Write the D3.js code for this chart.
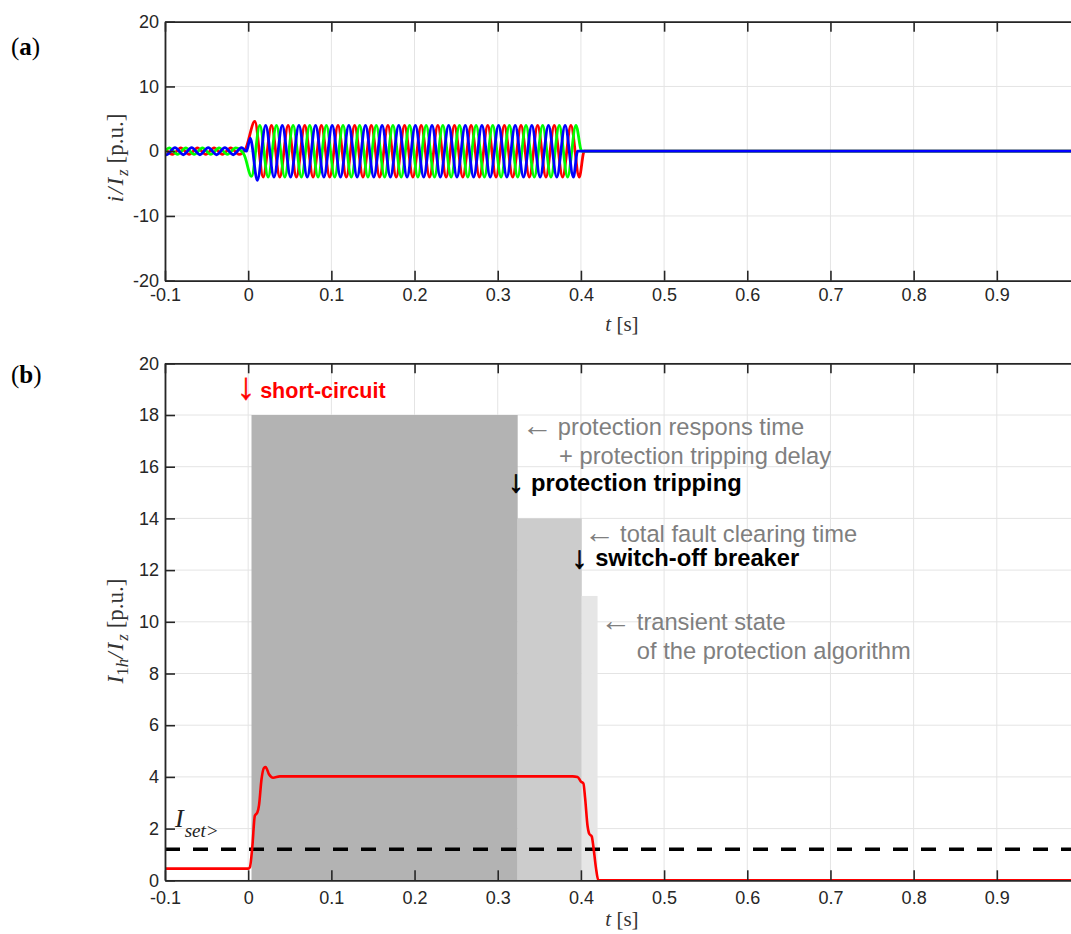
<!DOCTYPE html>
<html>
<head>
<meta charset="utf-8">
<script src="https://cdn.jsdelivr.net/npm/d3@7"></script>
<style>
  body { margin: 0; background: #fff; }
  svg { display: block; }
  .tick text { font-family: "Liberation Sans", Arial, sans-serif; font-size: 18px; fill: #262626; }
  .domain { stroke: #262626; stroke-width: 1.8; }
  .tick line { stroke: #262626; stroke-width: 1.6; }
  .serif { font-family: "Liberation Serif", "Times New Roman", serif; fill: #333; }
  .note { font-family: "Liberation Sans", Arial, sans-serif; }
  .arrow { font-family: "Liberation Serif", "DejaVu Serif", serif; }
</style>
</head>
<body>
<div id="chart"></div>
<script>
/* Tick values */
const timeTicks = [-0.1, 0, 0.1, 0.2, 0.3, 0.4, 0.5, 0.6, 0.7, 0.8, 0.9];
const currentTicks = [-20, -10, 0, 10, 20];
const harmonicTicks = [0, 2, 4, 6, 8, 10, 12, 14, 16, 18, 20];

/* Panel (a): phase currents, [t, i/Iz] at the peaks */
const phaseRed = [
  [-0.1, 0.45], [-0.091, -0.5], [-0.081, 0.5], [-0.071, -0.5], [-0.061, 0.5], [-0.051, -0.5],
  [-0.041, 0.5], [-0.031, -0.5], [-0.021, 0.5], [-0.011, -0.5], [-0.003, 0.4],
  [0.008, 4.6], [0.018, -4], [0.028, 4], [0.038, -4], [0.048, 4], [0.058, -4], [0.068, 4], [0.078, -4], [0.088, 4], [0.098, -4],
  [0.108, 4], [0.118, -4], [0.128, 4], [0.138, -4], [0.148, 4], [0.158, -4], [0.168, 4], [0.178, -4], [0.188, 4], [0.198, -4],
  [0.208, 4], [0.218, -4], [0.228, 4], [0.238, -4], [0.248, 4], [0.258, -4], [0.268, 4], [0.278, -4], [0.288, 4], [0.298, -4],
  [0.308, 4], [0.318, -4], [0.328, 4], [0.338, -4], [0.348, 4], [0.358, -4], [0.368, 4], [0.378, -4], [0.388, 4], [0.398, -4],
  [0.404, 0], [1.0, 0],
];
const phaseGreen = [
  [-0.1, 0], [-0.095, 0.5], [-0.085, -0.5], [-0.075, 0.5], [-0.065, -0.5], [-0.055, 0.5],
  [-0.045, -0.5], [-0.035, 0.5], [-0.025, -0.5], [-0.015, 0.5], [-0.005, -0.5],
  [0.004, -3.9], [0.014, 4], [0.024, -4], [0.034, 4], [0.044, -4], [0.054, 4], [0.064, -4], [0.074, 4], [0.084, -4], [0.094, 4],
  [0.104, -4], [0.114, 4], [0.124, -4], [0.134, 4], [0.144, -4], [0.154, 4], [0.164, -4], [0.174, 4], [0.184, -4], [0.194, 4],
  [0.204, -4], [0.214, 4], [0.224, -4], [0.234, 4], [0.244, -4], [0.254, 4], [0.264, -4], [0.274, 4], [0.284, -4], [0.294, 4],
  [0.304, -4], [0.314, 4], [0.324, -4], [0.334, 4], [0.344, -4], [0.354, 4], [0.364, -4], [0.374, 4], [0.384, -4], [0.394, 4],
  [0.401, 0], [1.0, 0],
];
const phaseBlue = [
  [-0.1, -0.45], [-0.098, -0.55], [-0.088, 0.55], [-0.078, -0.55], [-0.068, 0.55], [-0.058, -0.55],
  [-0.048, 0.55], [-0.038, -0.55], [-0.028, 0.55], [-0.018, -0.55], [-0.008, 0.55], [-0.002, 0],
  [0.0025, 2.0], [0.011, -4.5], [0.021, 4], [0.031, -4], [0.041, 4], [0.051, -4], [0.061, 4], [0.071, -4], [0.081, 4], [0.091, -4],
  [0.101, 4], [0.111, -4], [0.121, 4], [0.131, -4], [0.141, 4], [0.151, -4], [0.161, 4], [0.171, -4], [0.181, 4], [0.191, -4],
  [0.201, 4], [0.211, -4], [0.221, 4], [0.231, -4], [0.241, 4], [0.251, -4], [0.261, 4], [0.271, -4], [0.281, 4], [0.291, -4],
  [0.301, 4], [0.311, -4], [0.321, 4], [0.331, -4], [0.341, 4], [0.351, -4], [0.361, 4], [0.371, -4], [0.381, 4], [0.391, -4],
  [0.396, 0], [1.0, 0],
];

/* Panel (b): first harmonic magnitude I1h/Iz */
const harmonicCurrent = [
  [-0.1, 0.45], [0.0, 0.45], [0.002, 0.5], [0.005, 1.3], [0.008, 2.5], [0.011, 2.62], [0.013, 2.9],
  [0.016, 3.9], [0.019, 4.35], [0.021, 4.38], [0.025, 4.1], [0.03, 3.97], [0.038, 4.02], [0.39, 4.02],
  [0.396, 4.0], [0.4, 3.82], [0.403, 3.75], [0.405, 3.2], [0.408, 2.1], [0.41, 1.8], [0.413, 1.7],
  [0.415, 1.3], [0.418, 0.5], [0.421, 0], [1.0, 0],
];
const setting = 1.2;

/* Protection stages: start, end and bar height */
const stageStart = [0.004, 0.324, 0.401];
const stageEnd = [0.324, 0.401, 0.42];
const stageLevel = [18, 14, 11];
const stageColors = ['#b3b3b3', '#cccccc', '#e6e6e6'];

/* Text notes in panel (b), placed in data units (arrow centre at `at`) */
const notes = [
  { arrow: '↓', at: -0.003, t: 0.0144, v: 18.65, text: 'short-circuit', kind: 'red' },
  { arrow: '←', at: 0.3477, t: 0.3723, v: 17.24, text: 'protection respons time', kind: 'gray' },
  { arrow: null, t: 0.3738, v: 16.09, text: '+ protection tripping delay', kind: 'gray' },
  { arrow: '↓', at: 0.3219, t: 0.3401, v: 15.06, text: 'protection tripping', kind: 'black' },
  { arrow: '←', at: 0.4228, t: 0.4471, v: 13.09, text: 'total fault clearing time', kind: 'gray' },
  { arrow: '↓', at: 0.3982, t: 0.4171, v: 12.15, text: 'switch-off breaker', kind: 'black' },
  { arrow: '←', at: 0.4421, t: 0.4672, v: 9.7, text: 'transient state', kind: 'gray' },
  { arrow: null, t: 0.4672, v: 8.58, text: 'of the protection algorithm', kind: 'gray' },
];

const width = 1071, height = 934;
const svg = d3.select('#chart').append('svg').attr('width', width).attr('height', height);

const x = d3.scaleLinear().domain([-0.1, 1.0]).range([165, 1080]);
const yA = d3.scaleLinear().domain([-20, 20]).range([280.7, 21.7]);
const yB = d3.scaleLinear().domain([0, 20]).range([880.3, 363.3]);

const fmt = (d) => String(d);

// Grid lines behind everything
const drawGrid = (y, yTicks) => {
  const g = svg.append('g').attr('stroke', '#e4e4e4').attr('stroke-width', 1);
  g.selectAll('.gx').data(timeTicks.concat([1.0])).join('line')
    .attr('x1', (d) => x(d)).attr('x2', (d) => x(d))
    .attr('y1', y.range()[0]).attr('y2', y.range()[1]);
  g.selectAll('.gy').data(yTicks).join('line')
    .attr('x1', x.range()[0]).attr('x2', x.range()[1])
    .attr('y1', (d) => y(d)).attr('y2', (d) => y(d));
};

// Box axes with inward ticks
const drawAxes = (y, yTicks, pad) => {
  const [y0, y1] = y.range();
  svg.append('g').attr('transform', `translate(0,${y0})`)
    .call(d3.axisBottom(x).tickValues(timeTicks).tickFormat(fmt).tickSizeInner(-10).tickSizeOuter(0).tickPadding(pad));
  svg.append('g').attr('transform', `translate(0,${y1})`)
    .call(d3.axisTop(x).tickValues(timeTicks).tickFormat(() => '').tickSizeInner(-10).tickSizeOuter(0));
  svg.append('g').attr('transform', `translate(${x.range()[0]},0)`)
    .call(d3.axisLeft(y).tickValues(yTicks).tickFormat(fmt).tickSizeInner(-10).tickSizeOuter(0).tickPadding(6));
};

const clip = (id, y) => {
  svg.append('clipPath').attr('id', id).append('rect')
    .attr('x', x.range()[0]).attr('y', y.range()[1])
    .attr('width', x.range()[1] - x.range()[0]).attr('height', y.range()[0] - y.range()[1]);
};

/* ---- Panel (a) ---- */
drawGrid(yA, currentTicks);
clip('clipA', yA);

const lineA = d3.line().x((d) => x(d[0])).y((d) => yA(d[1])).curve(d3.curveMonotoneX);
const waves = svg.append('g').attr('clip-path', 'url(#clipA)');
[[phaseRed, '#ff0000'], [phaseGreen, '#00ff00'], [phaseBlue, '#0000ff']].forEach(([data, color]) => {
  waves.append('path').attr('d', lineA(data))
    .attr('fill', 'none').attr('stroke', color).attr('stroke-width', 2.8).attr('stroke-linejoin', 'round');
});

drawAxes(yA, currentTicks, 8);

/* ---- Panel (b) ---- */
drawGrid(yB, harmonicTicks);
clip('clipB', yB);

svg.append('g').selectAll('rect').data(stageStart).join('rect')
  .attr('x', (d) => x(d))
  .attr('width', (d, i) => x(stageEnd[i]) - x(d))
  .attr('y', (d, i) => yB(stageLevel[i]))
  .attr('height', (d, i) => yB(0) - yB(stageLevel[i]))
  .attr('fill', (d, i) => stageColors[i]);

const lineB = d3.line().x((d) => x(d[0])).y((d) => yB(d[1])).curve(d3.curveMonotoneX);
const plotB = svg.append('g').attr('clip-path', 'url(#clipB)');
plotB.append('line')
  .attr('x1', x.range()[0]).attr('x2', x.range()[1])
  .attr('y1', yB(setting)).attr('y2', yB(setting))
  .attr('stroke', '#000').attr('stroke-width', 3.5).attr('stroke-dasharray', '15,13');
plotB.append('path').attr('d', lineB(harmonicCurrent))
  .attr('fill', 'none').attr('stroke', '#ff0000').attr('stroke-width', 2.6).attr('stroke-linejoin', 'round');

drawAxes(yB, harmonicTicks, 11);

// I_set> label
const iset = svg.append('text').attr('class', 'serif').attr('x', 175).attr('y', 827)
  .style('font-size', '26px').style('font-style', 'italic').style('fill', '#222');
iset.append('tspan').text('I');
iset.append('tspan').attr('dx', 1).attr('dy', 10).style('font-size', '19px').text('set>');

// Notes
const colors = { red: '#ff0000', gray: '#7f7f7f', black: '#000' };
const arrowSize = { red: 38, black: 31, gray: 31 };
const arrowShift = { red: 1, black: 1.5, gray: 1 };
const arrowStroke = { red: 0.4, black: 0.8, gray: 0 };
notes.forEach((n) => {
  const bold = n.kind !== 'gray';
  const size = n.kind === 'red' ? 21.5 : 23.7;
  svg.append('text').attr('class', 'note')
    .attr('x', x(n.t)).attr('y', yB(n.v))
    .style('font-size', size + 'px').style('font-weight', bold ? 'bold' : 'normal')
    .style('fill', colors[n.kind]).text(n.text);
  if (n.arrow) {
    svg.append('text').attr('class', 'arrow').attr('text-anchor', 'middle')
      .attr('x', x(n.at)).attr('y', yB(n.v) + arrowShift[n.kind])
      .style('font-size', arrowSize[n.kind] + 'px')
      .style('fill', colors[n.kind])
      .style('stroke', colors[n.kind]).style('stroke-width', arrowStroke[n.kind])
      .text(n.arrow);
  }
});

/* ---- Axis titles and panel letters ---- */
const xTitle = (yy) => {
  const t = svg.append('text').attr('class', 'serif').attr('x', 622).attr('y', yy)
    .attr('text-anchor', 'middle').style('font-size', '21px');
  t.append('tspan').style('font-style', 'italic').text('t');
  t.append('tspan').text(' [s]');
};
xTitle(331);
xTitle(926);

const yTitleA = svg.append('text').attr('class', 'serif')
  .attr('transform', 'translate(123,158) rotate(-90)').attr('text-anchor', 'middle').style('font-size', '23px');
yTitleA.append('tspan').style('font-style', 'italic').style('letter-spacing', '2px').text('i/I');
yTitleA.append('tspan').style('font-style', 'italic').style('font-size', '17px').attr('dy', 5).text('z');
yTitleA.append('tspan').attr('dy', -5).text(' [p.u.]');

const yTitleB = svg.append('text').attr('class', 'serif')
  .attr('transform', 'translate(123,631) rotate(-90)').attr('text-anchor', 'middle').style('font-size', '23px');
yTitleB.append('tspan').style('font-style', 'italic').text('I');
yTitleB.append('tspan').style('font-size', '17px').attr('dy', 5).text('1');
yTitleB.append('tspan').style('font-size', '17px').style('font-style', 'italic').text('h');
yTitleB.append('tspan').style('font-style', 'italic').style('letter-spacing', '2px').attr('dy', -5).text('/I');
yTitleB.append('tspan').style('font-style', 'italic').style('font-size', '17px').attr('dy', 5).text('z');
yTitleB.append('tspan').attr('dy', -5).text(' [p.u.]');

[['(a)', 55], ['(b)', 383]].forEach(([label, yy]) => {
  const t = svg.append('text').attr('class', 'serif').attr('x', 11).attr('y', yy)
    .style('font-size', '25px').style('fill', '#000');
  t.append('tspan').text('(');
  t.append('tspan').style('font-weight', 'bold').text(label.slice(1, 2));
  t.append('tspan').text(')');
});
</script>
</body>
</html>
